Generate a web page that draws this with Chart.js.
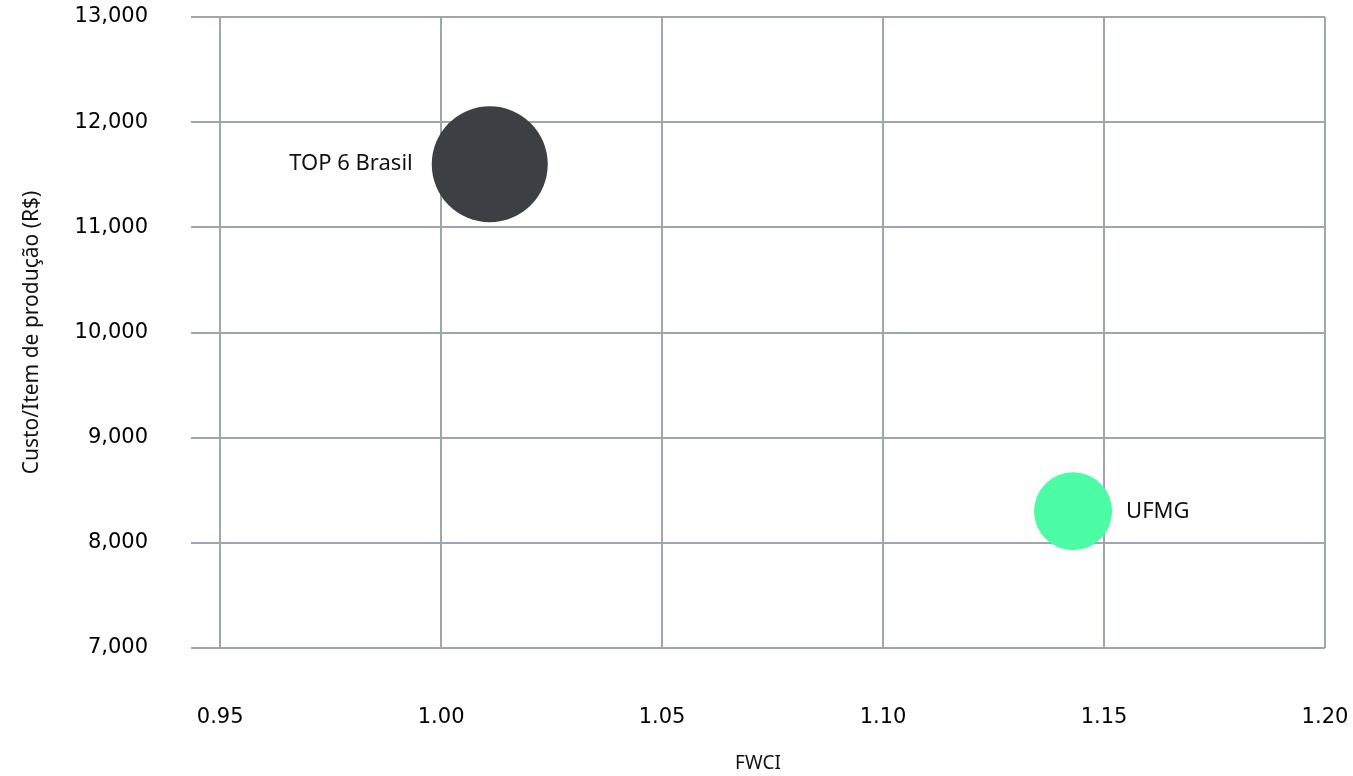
<!DOCTYPE html>
<html>
<head>
<meta charset="utf-8">
<script src="https://cdn.jsdelivr.net/npm/chart.js@4/dist/chart.umd.min.js"></script>
<style>
  html, body { margin: 0; padding: 0; background: #fff; }
  #wrap { width: 1353px; height: 776px; }
</style>
</head>
<body>
<div id="wrap"><canvas id="bubbleChart"></canvas></div>
<script>
// Data
const groups = ["TOP 6 Brasil", "UFMG"];
const fwci = [1.011, 1.143];
const costPerItem = [11600, 8300];
const bubbleRadius = [58, 39];
const bubbleColors = ["#3c4045", "#4bfca4"];
const labelSide = ["left", "right"];

const xTicks = [0.95, 1.00, 1.05, 1.10, 1.15, 1.20];
const yTicks = [7000, 8000, 9000, 10000, 11000, 12000, 13000];

const gridColor = "#9ea7ae";

// draws the group name next to each bubble
const bubbleLabels = {
    id: "bubbleLabels",
    afterDatasetsDraw(chart) {
        const ctx = chart.ctx;
        ctx.save();
        ctx.font = "22px 'Noto Sans'";
        ctx.fillStyle = "#111";
        ctx.textBaseline = "middle";
        chart.data.datasets.forEach((ds, i) => {
            const el = chart.getDatasetMeta(i).data[0];
            if (!el) return;
            const r = ds.data[0].r;
            if (labelSide[i] === "left") {
                ctx.textAlign = "right";
                ctx.fillText(ds.label, el.x - r - 19, el.y);
            } else {
                ctx.textAlign = "left";
                ctx.fillText(ds.label, el.x + r + 14, el.y);
            }
        });
        ctx.restore();
    }
};

const datasets = groups.map((name, i) => ({
    label: name,
    data: [{ x: fwci[i], y: costPerItem[i], r: bubbleRadius[i] }],
    backgroundColor: bubbleColors[i],
    borderWidth: 0,
    hoverRadius: 0
}));

new Chart(document.getElementById("bubbleChart"), {
    type: "bubble",
    data: { datasets: datasets },
    plugins: [bubbleLabels],
    options: {
        responsive: true,
        maintainAspectRatio: false,
        animation: false,
        layout: { autoPadding: false, padding: { left: 0, right: 28, top: 17, bottom: 0 } },
        plugins: {
            legend: { display: false },
            tooltip: { enabled: false }
        },
        scales: {
            x: {
                type: "linear",
                min: 0.9434,
                max: 1.20,
                afterBuildTicks: axis => { axis.ticks = xTicks.map(v => ({ value: v })); },
                // the big label gap would otherwise leak into the side padding
                afterFit: axis => {
                    axis.height = 128;
                    axis.paddingLeft = 0;
                    axis.paddingRight = 0;
                },
                border: { display: false },
                grid: { color: gridColor, lineWidth: 2, drawTicks: false },
                ticks: {
                    padding: 57,
                    color: "#000",
                    font: { family: "DejaVu Sans", size: 21 },
                    callback: v => Number(v).toFixed(2)
                },
                title: {
                    display: true,
                    text: "FWCI",
                    color: "#111",
                    font: { family: "Noto Sans", size: 19 },
                    padding: { top: 19, bottom: 1 }
                }
            },
            y: {
                type: "linear",
                min: 7000,
                max: 13000,
                afterBuildTicks: axis => { axis.ticks = yTicks.map(v => ({ value: v })); },
                afterFit: axis => {
                    axis.width = 191;
                    axis.paddingTop = 0;
                    axis.paddingBottom = 0;
                },
                border: { display: false },
                grid: { color: gridColor, lineWidth: 2, drawTicks: false },
                ticks: {
                    padding: 43,
                    color: "#000",
                    font: { family: "DejaVu Sans", size: 21 },
                    callback: v => Number(v).toLocaleString("en-US")
                },
                title: {
                    display: true,
                    text: "Custo/Item de produção (R$)",
                    color: "#111",
                    font: { family: "Noto Sans", size: 21 },
                    padding: { top: 19, bottom: 33 }
                }
            }
        }
    }
});
</script>
</body>
</html>
